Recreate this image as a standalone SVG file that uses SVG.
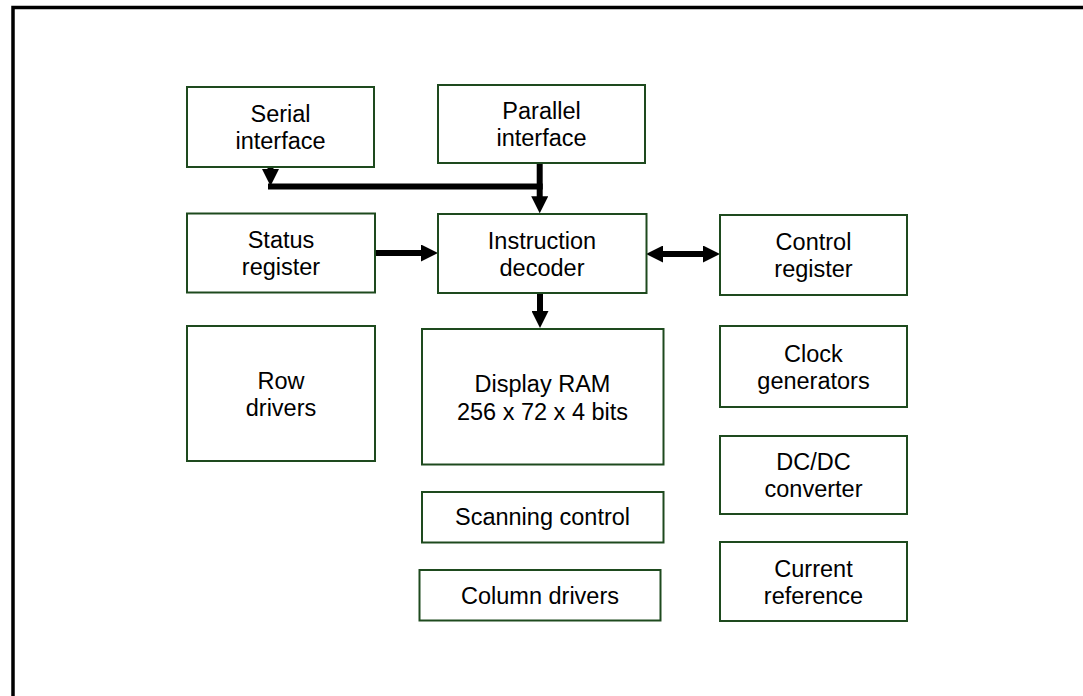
<svg xmlns="http://www.w3.org/2000/svg" width="1083" height="696" viewBox="0 0 1083 696">
  <style>
    .box { fill: #ffffff; stroke: #1e4a1e; stroke-width: 2; }
    .lbl { font-family: "Liberation Sans", Arial, sans-serif; font-size: 23.5px; fill: #000000; text-anchor: middle; }
    .wire { fill: none; stroke: #000000; stroke-width: 6; }
    .frame { fill: none; stroke: #000000; stroke-width: 3.5; }
  </style>
  <defs>
    <marker id="ah" viewBox="0 0 17 17" refX="7" refY="8.5" markerUnits="userSpaceOnUse" markerWidth="17" markerHeight="17" orient="auto-start-reverse">
      <path d="M0,0 L17,8.5 L0,17 z" fill="#000000"/>
    </marker>
  </defs>
  <rect width="1083" height="696" fill="#ffffff"/>
  <path class="frame" d="M13,700 L13,7.5 L1090,7.5"/>

  <g id="connectors">
    <line class="wire" x1="270.5" y1="166" x2="270.5" y2="176" marker-end="url(#ah)"/>
    <line class="wire" x1="268" y1="186.5" x2="542.7" y2="186.5"/>
    <line class="wire" x1="539.7" y1="163" x2="539.7" y2="203.3" marker-end="url(#ah)"/>
    <line class="wire" x1="375" y1="253" x2="428" y2="253" marker-end="url(#ah)"/>
    <line class="wire" x1="656" y1="254" x2="710" y2="254" marker-start="url(#ah)" marker-end="url(#ah)"/>
    <line class="wire" x1="540" y1="293" x2="540" y2="318" marker-end="url(#ah)"/>
  </g>

  <g id="serial-interface">
    <rect class="box" x="187" y="87" width="187" height="80"/>
    <text class="lbl" x="280.5" y="122">Serial</text>
    <text class="lbl" x="280.5" y="149">interface</text>
  </g>
  <g id="parallel-interface">
    <rect class="box" x="438" y="85" width="207" height="78"/>
    <text class="lbl" x="541.5" y="119">Parallel</text>
    <text class="lbl" x="541.5" y="146">interface</text>
  </g>
  <g id="status-register">
    <rect class="box" x="187" y="213.5" width="188" height="79"/>
    <text class="lbl" x="281" y="248">Status</text>
    <text class="lbl" x="281" y="275">register</text>
  </g>
  <g id="instruction-decoder">
    <rect class="box" x="438" y="214" width="208.5" height="79"/>
    <text class="lbl" x="542" y="248.5">Instruction</text>
    <text class="lbl" x="542" y="275.5">decoder</text>
  </g>
  <g id="control-register">
    <rect class="box" x="720" y="215" width="187" height="80"/>
    <text class="lbl" x="813.5" y="250">Control</text>
    <text class="lbl" x="813.5" y="277">register</text>
  </g>
  <g id="row-drivers">
    <rect class="box" x="187" y="326" width="188" height="135"/>
    <text class="lbl" x="281" y="388.5">Row</text>
    <text class="lbl" x="281" y="415.5">drivers</text>
  </g>
  <g id="display-ram">
    <rect class="box" x="422" y="329" width="241.5" height="135.5"/>
    <text class="lbl" x="542.5" y="391.5">Display RAM</text>
    <text class="lbl" x="542.5" y="419.5">256 x 72 x 4 bits</text>
  </g>
  <g id="clock-generators">
    <rect class="box" x="720" y="326" width="187" height="81"/>
    <text class="lbl" x="813.5" y="361.5">Clock</text>
    <text class="lbl" x="813.5" y="388.5">generators</text>
  </g>
  <g id="dcdc-converter">
    <rect class="box" x="720" y="436" width="187" height="78"/>
    <text class="lbl" x="813.5" y="470">DC/DC</text>
    <text class="lbl" x="813.5" y="497">converter</text>
  </g>
  <g id="current-reference">
    <rect class="box" x="720" y="542" width="187" height="79"/>
    <text class="lbl" x="813.5" y="576.5">Current</text>
    <text class="lbl" x="813.5" y="603.5">reference</text>
  </g>
  <g id="scanning-control">
    <rect class="box" x="422" y="492" width="241.5" height="50.5"/>
    <text class="lbl" x="542.5" y="525">Scanning control</text>
  </g>
  <g id="column-drivers">
    <rect class="box" x="419.5" y="570" width="241" height="50.5"/>
    <text class="lbl" x="540" y="604">Column drivers</text>
  </g>
</svg>
